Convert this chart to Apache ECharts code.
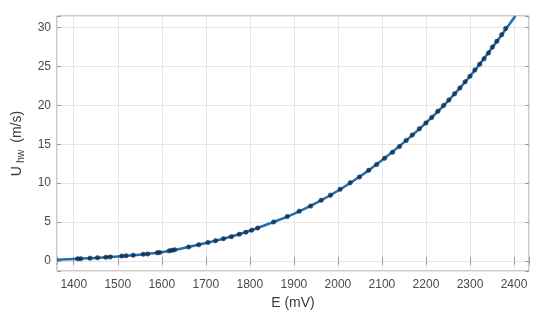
<!DOCTYPE html>
<html>
<head>
<meta charset="utf-8">
<script src="https://cdn.jsdelivr.net/npm/echarts@6/dist/echarts.min.js"></script>
<style>
html,body{margin:0;padding:0;background:#fff;}
#c{width:550px;height:327px;}
</style>
</head>
<body>
<div id="c"></div>
<script>
// Measured calibration points (E in mV, U_hw in m/s)
const pointE = [1409,1416,1437,1454,1473,1483,1509,1519,1535,1558,1568,1590,1595,1617,1623,1629,1661,1684,1705,1722,1740,1758,1776,1791,1804,1818,1854,1885,1912,1938,1962,1983,2005,2028,2049,2070,2088,2106,2124,2140,2155,2169,2185,2200,2213,2227,2240,2252,2265,2277,2289,2300,2311,2322,2332,2342,2351,2361,2372,2381];
const pointU = [0.27,0.29,0.35,0.40,0.47,0.50,0.62,0.67,0.73,0.85,0.90,1.05,1.08,1.30,1.36,1.42,1.78,2.07,2.37,2.60,2.86,3.12,3.42,3.70,3.95,4.22,5.00,5.70,6.40,7.05,7.80,8.45,9.20,10.05,10.80,11.65,12.40,13.20,13.97,14.72,15.50,16.20,17.00,17.75,18.45,19.25,20.00,20.70,21.50,22.25,23.05,23.75,24.55,25.30,26.00,26.75,27.50,28.25,29.10,29.90];

// Fitted calibration curve
const curveE = [1362,1400,1450,1500,1550,1600,1650,1700,1750,1800,1850,1900,1950,2000,2050,2100,2150,2200,2250,2300,2350,2403];
const curveU = [0.15,0.25,0.38,0.58,0.80,1.12,1.65,2.30,3.00,3.88,4.92,6.05,7.42,9.02,10.85,12.95,15.24,17.75,20.55,23.75,27.40,31.50];

// Axis ticks
const xTicks = [1400,1500,1600,1700,1800,1900,2000,2100,2200,2300,2400];
const yTicks = [0,5,10,15,20,25,30];

const xRange = [1362, 2434];
const yRange = [-1.3, 31.5];

const FONT = "'Liberation Sans', Arial, Helvetica, sans-serif";
const BOX = '#9a9a9a';
const TXT = '#3c3c3c';

const chart = echarts.init(document.getElementById('c'), null, {renderer: 'canvas'});

function zip(a, b) { return a.map((v, i) => [v, b[i]]); }

const xLabelFmt = v => (xTicks.indexOf(Math.round(v)) >= 0 && Math.abs(v - Math.round(v)) < 1e-6) ? String(Math.round(v)) : '';
const yLabelFmt = v => (yTicks.indexOf(Math.round(v)) >= 0 && Math.abs(v - Math.round(v)) < 1e-6) ? String(Math.round(v)) : '';

const baseX = { type: 'value', min: xRange[0], max: xRange[1], splitNumber: 10 };
const baseY = { type: 'value', min: yRange[0], max: yRange[1], splitNumber: 6 };

chart.setOption({
  animation: false,
  backgroundColor: '#ffffff',
  textStyle: { fontFamily: FONT },
  grid: { left: 57, right: 21, top: 16, bottom: 56, show: true, borderColor: BOX, borderWidth: 1, backgroundColor: '#ffffff' },
  xAxis: [
    Object.assign({}, baseX, {
      position: 'bottom',
      name: 'E (mV)', nameLocation: 'middle', nameGap: 24,
      nameTextStyle: { fontFamily: FONT, fontSize: 14, color: TXT },
      axisLine: { show: false },
      axisTick: { show: true, inside: true, length: 4, lineStyle: { color: BOX } },
      axisLabel: { formatter: xLabelFmt, fontFamily: FONT, fontSize: 12, color: '#4a4a4a', margin: 8 },
      splitLine: { show: true, lineStyle: { color: '#e6e6e6', width: 1 } }
    }),
    Object.assign({}, baseX, {
      position: 'top',
      axisLine: { show: false },
      axisTick: { show: true, inside: true, length: 4, lineStyle: { color: BOX } },
      axisLabel: { show: false },
      splitLine: { show: false }
    })
  ],
  yAxis: [
    Object.assign({}, baseY, {
      position: 'left',
      name: '{m|U}{s|hw}{m| (m/s)}', nameLocation: 'middle', nameGap: 28, nameRotate: 90,
      nameTextStyle: {
        fontFamily: FONT, fontSize: 14, color: TXT,
        rich: {
          m: { fontFamily: FONT, fontSize: 14, color: TXT },
          s: { fontFamily: FONT, fontSize: 10.5, color: TXT, verticalAlign: 'bottom', padding: [8, 3, 0, 3] }
        }
      },
      axisLine: { show: false },
      axisTick: { show: true, inside: true, length: 4, lineStyle: { color: BOX } },
      axisLabel: { formatter: yLabelFmt, fontFamily: FONT, fontSize: 12, color: '#4a4a4a', margin: 6 },
      splitLine: { show: true, lineStyle: { color: '#e6e6e6', width: 1 } }
    }),
    Object.assign({}, baseY, {
      position: 'right',
      axisLine: { show: false },
      axisTick: { show: true, inside: true, length: 4, lineStyle: { color: BOX } },
      axisLabel: { show: false },
      splitLine: { show: false }
    })
  ],
  series: [
    {
      type: 'line', xAxisIndex: 0, yAxisIndex: 0,
      data: zip(curveE, curveU),
      smooth: 0.4, showSymbol: false, symbol: 'none',
      lineStyle: { color: '#1f6fb2', width: 2.5 },
      clip: true, z: 2
    },
    {
      type: 'scatter', xAxisIndex: 0, yAxisIndex: 0,
      data: zip(pointE, pointU),
      symbol: 'circle', symbolSize: 4.5,
      itemStyle: { color: '#11304f', borderColor: '#0c2540', borderWidth: 0.5 },
      z: 3
    }
  ]
});
</script>
</body>
</html>
